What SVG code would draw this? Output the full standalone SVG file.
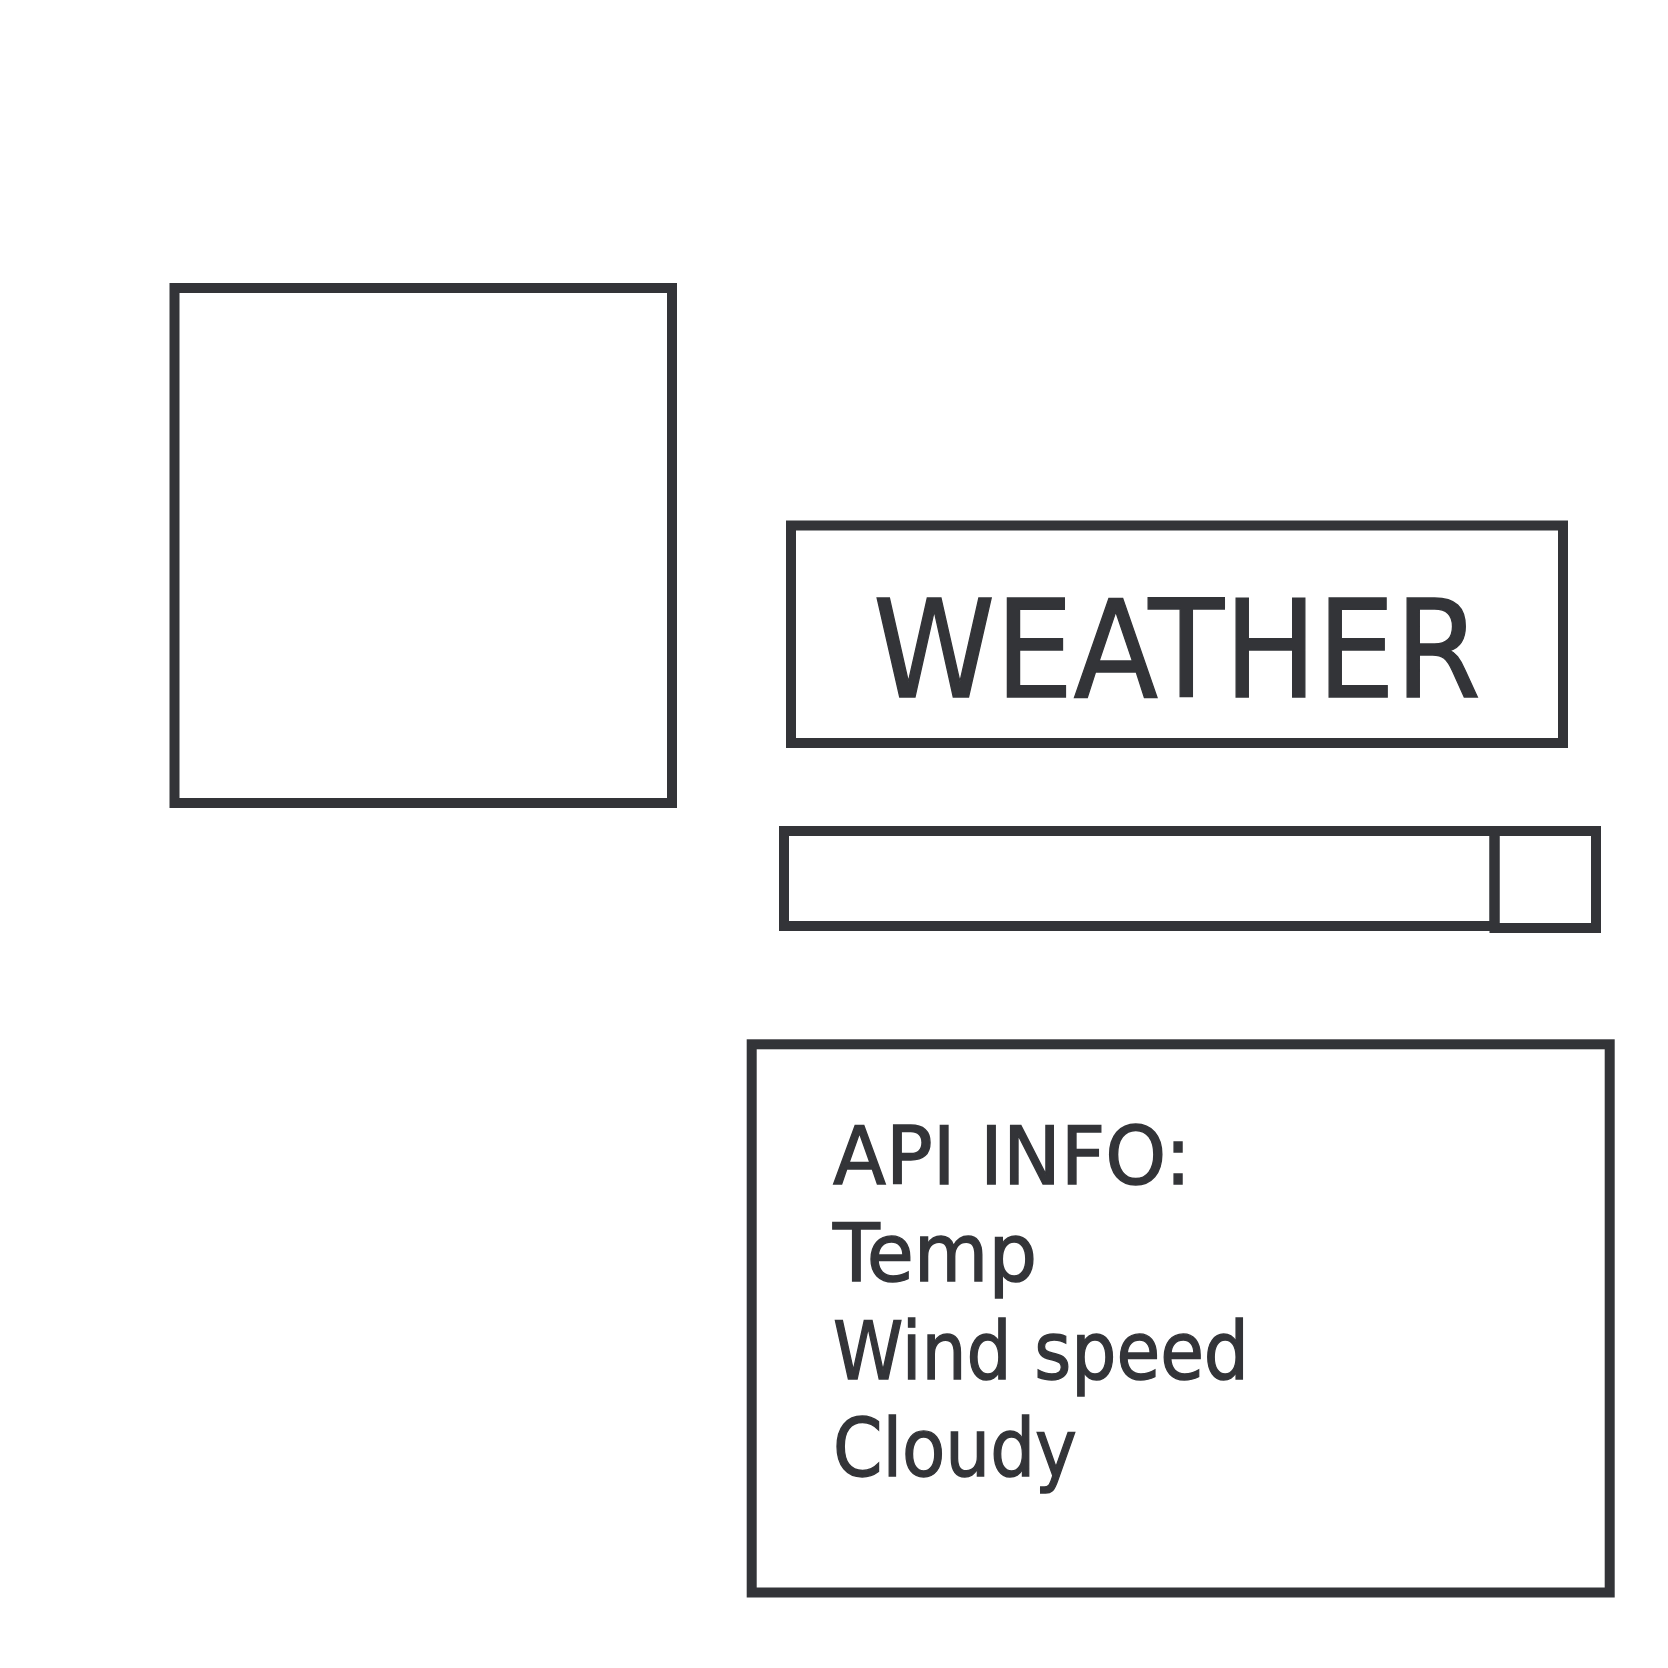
<svg xmlns="http://www.w3.org/2000/svg" width="1668" height="1668" viewBox="0 0 1668 1668">
<style>
.box{fill:none;stroke:#333438;stroke-width:10}
.t{font-family:"DejaVu Sans","Liberation Sans",sans-serif;fill:#333438;stroke:#333438;stroke-width:1.4}
</style>
<rect width="1668" height="1668" fill="#ffffff"/>
<g id="image-box"><rect class="box" x="174.5" y="288" width="497.5" height="515"/></g>
<g id="title-box"><rect class="box" x="791" y="525.5" width="772" height="217.5"/>
<text class="t" x="873" y="697" font-size="136" textLength="608" lengthAdjust="spacingAndGlyphs">WEATHER</text></g>
<g id="search-bar"><rect class="box" x="784" y="831" width="710.5" height="95"/></g>
<g id="search-button"><rect class="box" x="1494.5" y="831" width="101.5" height="97"/></g>
<g id="info-box"><rect class="box" x="751.7" y="1044.3" width="858" height="548.2"/>
<text class="t" font-size="81" x="833"><tspan y="1184" textLength="358" lengthAdjust="spacingAndGlyphs">API INFO:</tspan></text>
<text class="t" font-size="81" x="833"><tspan y="1281" textLength="204" lengthAdjust="spacingAndGlyphs">Temp</tspan></text>
<text class="t" font-size="81" x="833"><tspan y="1379" textLength="416" lengthAdjust="spacingAndGlyphs">Wind speed</tspan></text>
<text class="t" font-size="81" x="833"><tspan y="1476" textLength="244" lengthAdjust="spacingAndGlyphs">Cloudy</tspan></text>
</g>
<g id="connectors"></g>
</svg>
